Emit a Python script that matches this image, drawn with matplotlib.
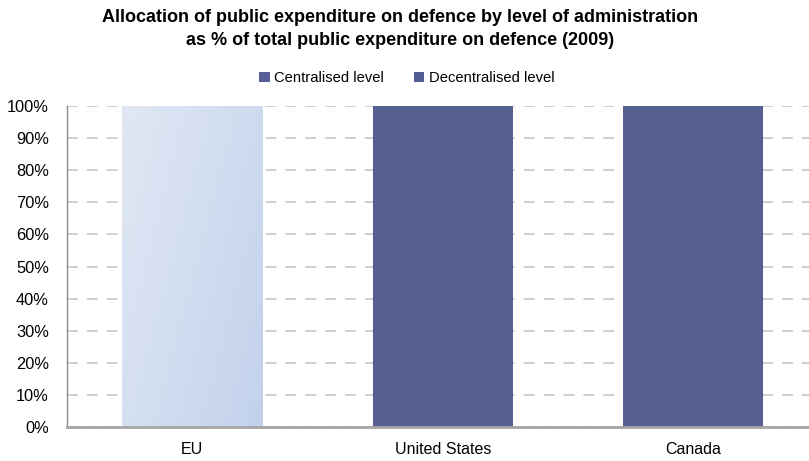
import numpy as np
import matplotlib
matplotlib.use("Agg")
import matplotlib.pyplot as plt
from matplotlib.colors import LinearSegmentedColormap
from matplotlib.patches import Patch

plt.rcParams['font.family'] = ['Liberation Sans', 'DejaVu Sans']

categories = ["EU", "United States", "Canada"]
centralised = [100, 100, 100]
decentralised = [0, 0, 0]
series_names = ["Centralised level", "Decentralised level"]
yticks = [0, 10, 20, 30, 40, 50, 60, 70, 80, 90, 100]
title_lines = ["Allocation of public expenditure on defence by level of administration",
               "as % of total public expenditure on defence (2009)"]

bar_color = "#566091"
decentral_color = "#525D96"

fig = plt.figure(figsize=(8.09, 4.61), dpi=100)
ax = fig.add_axes([0.0828, 0.0738, 0.929, 0.696])

x = np.arange(len(categories))
width = 0.56

bars_c = ax.bar(x, centralised, width, color=bar_color, zorder=2)
bars_d = ax.bar(x, decentralised, width, bottom=centralised, color=decentral_color, zorder=2)

# EU bar drawn with a light diagonal gradient fill
eu = bars_c[0]
eu.set_facecolor("none")
x0, y0 = eu.get_x(), eu.get_y()
w, h = eu.get_width(), eu.get_height()
grad_cmap = LinearSegmentedColormap.from_list("eu", ["#E1E8F4", "#C2D2EC"])
gx, gy = np.meshgrid(np.linspace(0, 1, 200), np.linspace(0, 1, 200))
grad = 0.75 * gx + 0.45 * gy
im = ax.imshow(grad, cmap=grad_cmap, extent=[x0, x0 + w, y0, y0 + h],
               origin="upper", aspect="auto", zorder=2, vmin=0, vmax=1.2)
im.set_clip_path(eu)

ax.set_xlim(-0.5, 2.5)
ax.set_ylim(0, 100)
ax.set_yticks(yticks)
ax.set_yticklabels([f"{v}%" for v in yticks], fontsize=11.8)
ax.set_xticks(x)
ax.set_xticklabels(categories, fontsize=11.5)
ax.tick_params(axis="both", length=0, colors="black")
ax.tick_params(axis="y", pad=13)
ax.tick_params(axis="x", pad=11)

ax.yaxis.grid(True, color="#CBCBCB", linestyle=(0, (6, 5)), linewidth=1.3, zorder=0)
ax.set_axisbelow(True)

for s in ["top", "right"]:
    ax.spines[s].set_visible(False)
ax.spines["left"].set_color("#8C8C8C")
ax.spines["left"].set_linewidth(1.0)
ax.spines["bottom"].set_color("#A6A6A6")
ax.spines["bottom"].set_linewidth(2.0)
ax.spines["bottom"].set_zorder(3)

for line, yb in zip(title_lines, [0.9523, 0.9024]):
    fig.text(0.494, yb, line, ha="center", va="baseline", fontsize=13, fontweight="bold")

handles = [Patch(facecolor="#585F98", edgecolor="none"),
           Patch(facecolor="#525D94", edgecolor="none")]
fig.legend(handles, series_names, loc="center", bbox_to_anchor=(0.503, 0.830),
           ncol=2, frameon=False, fontsize=10.6, handlelength=0.72, handleheight=0.72,
           handletextpad=0.3, columnspacing=2.0)

fig.savefig("out.png", dpi=100)
